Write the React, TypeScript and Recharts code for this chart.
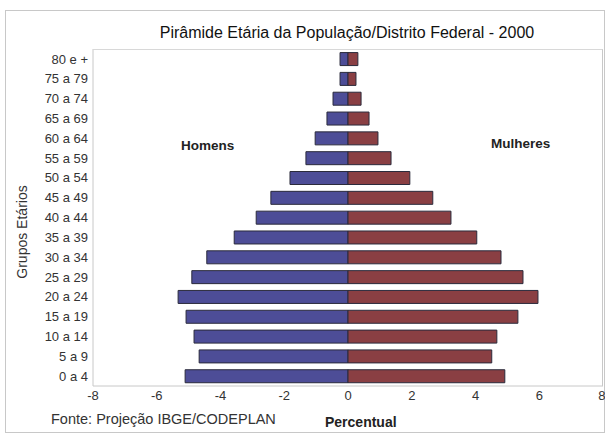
import { BarChart, Bar, XAxis, YAxis } from "recharts";

const ageGroups = [
  "80 e +", "75 a 79", "70 a 74", "65 a 69", "60 a 64", "55 a 59", "50 a 54", "45 a 49", "40 a 44",
  "35 a 39", "30 a 34", "25 a 29", "20 a 24", "15 a 19", "10 a 14", "5 a 9", "0 a 4",
];
// men are kept negative so they grow to the left
const homens = [-0.25, -0.25, -0.47, -0.66, -1.03, -1.32, -1.82, -2.42, -2.88, -3.57, -4.43, -4.9, -5.33, -5.08, -4.83, -4.67, -5.11];
const mulheres = [0.31, 0.25, 0.41, 0.66, 0.94, 1.35, 1.94, 2.66, 3.23, 4.04, 4.8, 5.49, 5.96, 5.33, 4.67, 4.51, 4.92];
const xTicks = [-8, -6, -4, -2, 0, 2, 4, 6, 8];

const font = "'Liberation Sans', Arial, sans-serif";

const abs = (style: React.CSSProperties): React.CSSProperties => ({
  position: "absolute",
  fontFamily: font,
  whiteSpace: "nowrap",
  ...style,
});

export default function App() {
  const data = ageGroups.map((g, i) => ({ grupo: g, homens: homens[i], mulheres: mulheres[i] }));

  return (
    <div style={{ position: "absolute", left: 0, top: 0, width: 605, height: 435, background: "#fff", overflow: "hidden" }}>
      <div style={abs({ left: 5, top: 10, width: 598, height: 421, border: "1px solid #c8c8c8" })} />
      <div style={abs({ left: 0, width: 694, top: 24, textAlign: "center", fontSize: 16, color: "#111" })}>
        Pirâmide Etária da População/Distrito Federal - 2000
      </div>
      <BarChart
        width={605}
        height={435}
        data={data}
        layout="vertical"
        stackOffset="sign"
        barCategoryGap="18%"
        margin={{ top: 49, right: 2, bottom: 24, left: 0 }}
      >
        <XAxis
          type="number"
          domain={[-8, 8]}
          ticks={xTicks}
          allowDataOverflow
          axisLine={{ stroke: "#c8c8c8" }}
          tickLine={false}
          tickSize={0}
          tickMargin={5}
          height={25}
          tick={{ fontSize: 13, fill: "#333", fontFamily: font }}
        />
        <YAxis
          type="category"
          dataKey="grupo"
          width={93}
          axisLine={{ stroke: "#c8c8c8" }}
          tickLine={false}
          tickSize={0}
          tickMargin={5}
          interval={0}
          tick={{ fontSize: 13, fill: "#333", fontFamily: font }}
        />
        <Bar dataKey="homens" stackId="p" fill="#4d4d97" stroke="#2b2b3c" strokeWidth={1} isAnimationActive={false} />
        <Bar dataKey="mulheres" stackId="p" fill="#8a3f43" stroke="#2b2b3c" strokeWidth={1} isAnimationActive={false} />
      </BarChart>
      <div style={abs({ left: 93, top: 49, width: 509, height: 336, borderTop: "1px solid #d8d8d8", borderRight: "1px solid #c8c8c8" })} />
      <div
        style={abs({
          left: 22,
          top: 232,
          transform: "translate(-50%, -50%) rotate(-90deg)",
          fontSize: 14,
          color: "#333",
        })}
      >
        Grupos Etários
      </div>
      <div style={abs({ left: 181, top: 138, fontSize: 13.5, fontWeight: "bold", color: "#222" })}>Homens</div>
      <div style={abs({ left: 491, top: 136, fontSize: 13.5, fontWeight: "bold", color: "#222" })}>Mulheres</div>
      <div style={abs({ left: 51, top: 411, fontSize: 14.5, color: "#333" })}>Fonte: Projeção IBGE/CODEPLAN</div>
      <div style={abs({ left: 325, top: 414, fontSize: 14, fontWeight: "bold", color: "#222" })}>Percentual</div>
    </div>
  );
}
